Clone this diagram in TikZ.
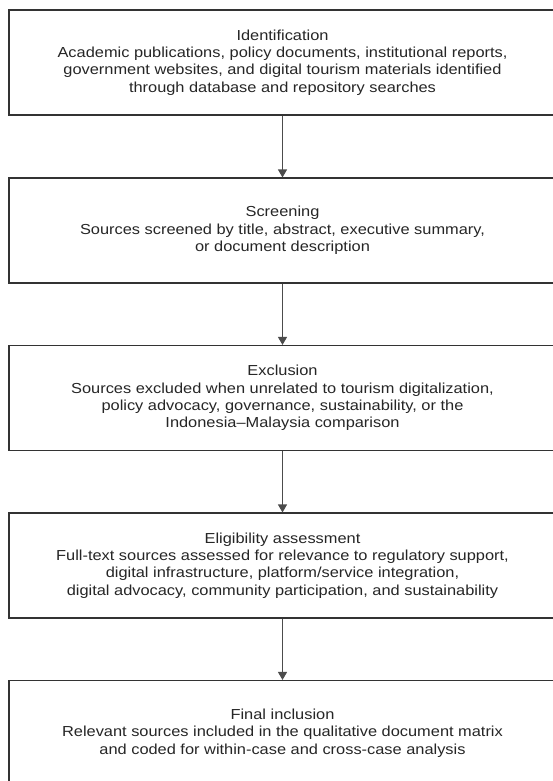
\documentclass[tikz,border=0pt]{standalone}
\usepackage{fontspec}
\setmainfont{Liberation Sans}[FakeStretch=1.13]
\usetikzlibrary{arrows.meta}
\begin{document}
\begin{tikzpicture}[x=1pt,y=-1pt]
  \tikzset{stage/.style={draw=black!80,line width=1.1pt,minimum width=547pt,minimum height=105pt,
      align=center,inner sep=0pt,text=black!85,font=\fontsize{14.5}{17.4}\selectfont},
    flow/.style={draw=black!70,line width=1.1pt,-{Triangle[length=8pt,width=9pt]}}}
  \useasboundingbox (0,0) rectangle (553,781);
  \clip (0,0) rectangle (553,781);
  \fill[white] (0,0) rectangle (553,781);

  \node[stage] (ident) at (282.5,62.5) {Identification\\
    Academic publications, policy documents, institutional reports,\\
    government websites, and digital tourism materials identified\\
    through database and repository searches};
  \node[stage] (screen) at (282.5,230.5) {Screening\\
    Sources screened by title, abstract, executive summary,\\
    or document description};
  \node[stage] (excl) at (282.5,398) {Exclusion\\
    Sources excluded when unrelated to tourism digitalization,\\
    policy advocacy, governance, sustainability, or the\\
    Indonesia--Malaysia comparison};
  \node[stage] (elig) at (282.5,565.5) {Eligibility assessment\\
    Full-text sources assessed for relevance to regulatory support,\\
    digital infrastructure, platform/service integration,\\
    digital advocacy, community participation, and sustainability};
  \node[stage] (final) at (282.5,733) {Final inclusion\\
    Relevant sources included in the qualitative document matrix\\
    and coded for within-case and cross-case analysis};

  \foreach \A/\B in {ident/screen,screen/excl,excl/elig,elig/final} {
    \draw[flow] (\A) -- (\B);}
\end{tikzpicture}
\end{document}
